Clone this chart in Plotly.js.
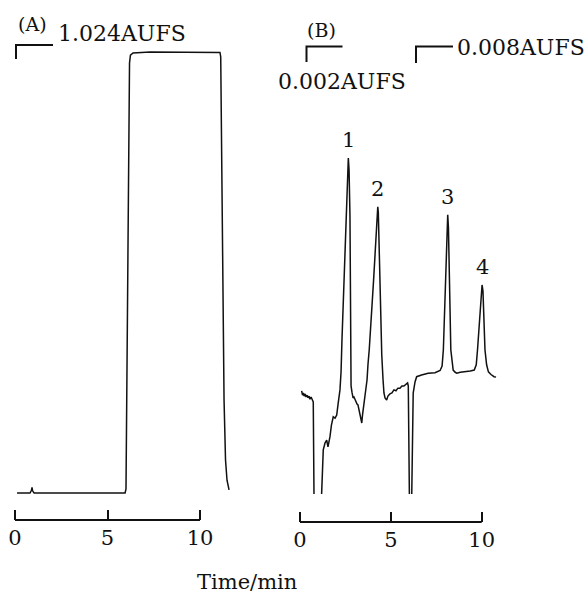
<!DOCTYPE html>
<html>
<head>
<meta charset="utf-8">
<script src="https://cdn.plot.ly/plotly-3.0.1.min.js"></script>
<style>
  html, body { margin: 0; padding: 0; background: #fff; }
  #chart { width: 588px; height: 594px; }
</style>
</head>
<body>
<div id="chart"></div>
<script>
// Chromatogram (A): detector response, % of chart full scale, vs time (min)
const timeA = [0.11, 0.81, 0.89, 0.92, 0.95, 1.03, 2.4, 4.6, 5.95, 6.00, 6.05, 6.11, 6.18, 6.19,
               6.24, 6.38, 7.3, 8.9, 10.0, 11.08, 11.12, 11.14, 11.22, 11.30, 11.38, 11.46, 11.57];
const respA = [0, 0, 0.6, 1.3, 0.5, 0, 0, 0, 0, 0.9, 30.2, 60.1, 84.6, 97.5,
               99.3, 99.8, 100, 99.9, 100, 99.9, 98.9, 89.1, 66.4, 21.1, 7.5, 2.9, 0.7];

// Chromatogram (B): null marks where the pen ran off the bottom of the chart
const timeB = [0.09, 0.14, 0.18, 0.23, 0.28, 0.33, 0.39, 0.44, 0.50, 0.55, 0.61, 0.66, 0.73, 0.77,
               1.0,
               1.19, 1.24, 1.28, 1.38, 1.47, 1.54, 1.65, 1.73, 1.83, 1.93, 2.02, 2.09, 2.20, 2.26, 2.31,
               2.66, 2.70, 2.75, 2.79, 2.81, 2.86, 2.92, 2.97, 3.03, 3.08, 3.14, 3.19, 3.25, 3.30,
               3.36, 3.40, 3.44, 3.52, 3.58, 3.69, 3.74, 3.81, 4.05, 4.28, 4.31, 4.46, 4.50, 4.57,
               4.62, 4.68, 4.77, 4.84, 4.95, 5.06, 5.17, 5.28, 5.39, 5.50, 5.61, 5.72, 5.83, 5.92,
               5.96, 5.99, 6.02,
               6.1,
               6.15, 6.19, 6.23, 6.33, 6.42, 6.69, 7.05, 7.43, 7.71, 7.82, 7.89, 8.13, 8.17, 8.30,
               8.37, 8.43, 8.54, 8.63, 8.82, 9.09, 9.37, 9.59, 9.70, 9.77, 10.02, 10.07, 10.18,
               10.27, 10.37, 10.51, 10.68, 10.79];
const respB = [23.4, 22.4, 22.9, 22.2, 22.7, 22.0, 22.4, 21.8, 22.2, 21.5, 22.0, 21.3, 20.9, 0,
               null,
               0, 5.4, 10.0, 11.6, 12.2, 10.7, 13.0, 15.6, 17.5, 17.2, 17.9, 20.2, 23.6, 27.7, 34.9,
               76.2, 73.5, 63.0, 32.7, 24.5, 23.1, 21.8, 22.0, 21.3, 21.1, 20.4, 20.2, 19.0, 18.6,
               17.2, 16.1, 17.9, 20.2, 22.0, 25.9, 29.3, 32.7, 48.5, 65.1, 63.9, 32.7, 31.5, 25.9,
               22.9, 21.8, 21.3, 22.2, 22.7, 22.9, 23.6, 23.4, 24.0, 24.0, 24.5, 24.5, 24.9, 25.2,
               24.5, 16.8, 0,
               null,
               0, 12.2, 22.9, 25.4, 26.6, 27.0, 27.4, 27.5, 28.0, 29.0, 32.7, 63.3, 60.3, 32.7,
               29.5, 28.1, 27.6, 27.4, 27.6, 27.7, 27.9, 28.1, 29.3, 32.7, 47.4, 46.0, 32.7,
               29.3, 27.7, 27.1, 26.6, 26.5];

// Peak numbers in (B)
const peakLabels = ['1', '2', '3', '4'];
const peakTimes = [2.66, 4.28, 8.13, 10.02];
const peakResp = [76.2, 65.1, 63.3, 47.4];

// Time scale
const tickValues = [0, 5, 10];
const tickLabels = ['0', '5', '10'];
const axisTitle = 'Time/min';

// Chart-speed / attenuation notes
const panelA = '(A)', rangeA = '1.024AUFS';
const panelB = '(B)', rangeB1 = '0.002AUFS', rangeB2 = '0.008AUFS';

// ---- geometry helpers (page pixels -> paper fractions / axis ranges) ----
const W = 588, H = 594;
const px = x => x / W;
const py = y => 1 - y / H;
function xGeom(left, right, zeroPx, pxPerMin) {
  return { domain: [px(left), px(right)],
           range: [(left - zeroPx) / pxPerMin, (right - zeroPx) / pxPerMin] };
}
function yGeom(bottom, top, zeroPx, pxPerUnit) {
  return { domain: [py(bottom), py(top)],
           range: [(zeroPx - bottom) / pxPerUnit, (zeroPx - top) / pxPerUnit] };
}

const serif = 'DejaVu Serif, Liberation Serif, serif';
const ink = '#111';

const gxA = xGeom(8, 240, 15, 18.5);
const gxB = xGeom(285, 520, 300, 18.17);
const gyA = yGeom(520, 40, 493, 4.41);
const gyB = yGeom(522, 40, 494, 4.41);

function timeAxis(g) {
  return {
    domain: g.domain, range: g.range, fixedrange: true,
    showgrid: false, zeroline: false, showline: false,
    ticks: 'inside', ticklen: 10, tickwidth: 2, tickcolor: ink,
    tickmode: 'array', tickvals: tickValues, ticktext: tickLabels,
    tickfont: { family: serif, size: 21, color: ink },
    ticklabelstandoff: 3
  };
}
function respAxis(g, anchor) {
  return { domain: g.domain, range: g.range, anchor: anchor, visible: false, fixedrange: true };
}

const traces = [
  { x: timeA, y: respA, xaxis: 'x', yaxis: 'y', type: 'scatter', mode: 'lines',
    line: { color: ink, width: 1.5 }, hoverinfo: 'skip' },
  { x: timeB, y: respB, xaxis: 'x2', yaxis: 'y2', type: 'scatter', mode: 'lines',
    connectgaps: false, line: { color: ink, width: 1.5 }, hoverinfo: 'skip' }
];

// Scale bars along the time axes, plus recorder range brackets
const shapes = [
  { type: 'line', xref: 'x', yref: 'y domain', x0: tickValues[0], x1: tickValues[2], y0: 0, y1: 0,
    line: { color: ink, width: 2 } },
  { type: 'line', xref: 'x2', yref: 'y2 domain', x0: tickValues[0], x1: tickValues[2], y0: 0, y1: 0,
    line: { color: ink, width: 2 } }
];
function bracket(x, yTop, yBot, xEnd) {
  shapes.push({ type: 'path', xref: 'paper', yref: 'paper',
    path: `M ${px(x)} ${py(yBot)} L ${px(x)} ${py(yTop)} L ${px(xEnd)} ${py(yTop)}`,
    line: { color: ink, width: 2 } });
}
bracket(16, 45, 59, 53);
bracket(306.5, 46.5, 62, 342.5);
bracket(416, 46.5, 63, 453);

function note(text, x, y, size) {
  return { text: text, xref: 'paper', yref: 'paper', x: px(x), y: py(y),
           xanchor: 'center', yanchor: 'middle', showarrow: false,
           font: { family: serif, size: size, color: ink } };
}
const annotations = [
  note(panelA, 32, 24, 19),
  note(rangeA, 121.5, 33, 22),
  note(panelB, 321, 30, 19),
  note(rangeB1, 342, 81, 22),
  note(rangeB2, 521, 47, 22),
  note(axisTitle, 247, 582, 21)
];
peakLabels.forEach((lab, i) => {
  annotations.push({ text: lab, xref: 'x2', yref: 'y2', x: peakTimes[i], y: peakResp[i],
    xanchor: 'center', yanchor: 'bottom', yshift: 4, showarrow: false,
    font: { family: serif, size: 21, color: ink } });
});

const layout = {
  width: W, height: H,
  margin: { l: 0, r: 0, t: 0, b: 0, pad: 0 },
  paper_bgcolor: '#fff', plot_bgcolor: 'rgba(0,0,0,0)',
  showlegend: false,
  xaxis: Object.assign(timeAxis(gxA), { anchor: 'y' }),
  yaxis: respAxis(gyA, 'x'),
  xaxis2: Object.assign(timeAxis(gxB), { anchor: 'y2' }),
  yaxis2: respAxis(gyB, 'x2'),
  shapes: shapes,
  annotations: annotations
};

Plotly.newPlot('chart', traces, layout, { displayModeBar: false, staticPlot: true });
</script>
</body>
</html>
